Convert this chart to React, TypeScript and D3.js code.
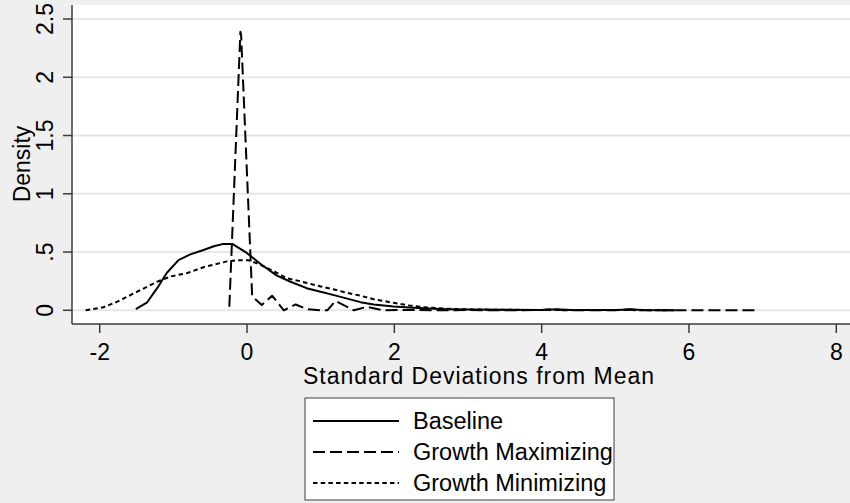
import React from "react";
import * as d3 from "d3";

const W = 850;
const H = 503;

const xTicks = [-2, 0, 2, 4, 6, 8];
const yTicks = [0, 0.5, 1, 1.5, 2, 2.5];
const yTickLabels = ["0", ".5", "1", "1.5", "2", "2.5"];

const baselineX = [-1.51, -1.36, -1.22, -1.09, -0.93, -0.77, -0.6, -0.45, -0.32, -0.2, -0.02, 0.18, 0.4, 0.59, 0.81, 1.0, 1.18, 1.36, 1.54, 1.72, 1.99, 2.2, 2.39, 2.7, 3.0, 3.5, 4.0, 4.2, 4.4, 5.0, 5.2, 5.4, 5.8];
const baselineY = [0.01, 0.065, 0.19, 0.32, 0.43, 0.48, 0.515, 0.55, 0.57, 0.57, 0.5, 0.4, 0.3, 0.245, 0.19, 0.16, 0.13, 0.1, 0.07, 0.05, 0.033, 0.024, 0.017, 0.01, 0.006, 0.004, 0.003, 0.008, 0.003, 0.002, 0.007, 0.002, 0.001];

const maxX = [-0.24, -0.09, -0.08, 0.07, 0.2, 0.34, 0.5, 0.66, 0.81, 1.0, 1.09, 1.2, 1.45, 1.63, 1.85, 2.2, 2.6, 3.0, 3.5, 4.0, 4.15, 4.3, 5.0, 5.2, 5.4, 6.0, 6.5, 6.93];
const maxY = [0.03, 2.39, 2.36, 0.12, 0.045, 0.125, 0.0, 0.05, 0.01, 0.0, 0.0, 0.08, 0.0, 0.03, 0.0, 0.003, 0.0, 0.002, 0.0, 0.002, 0.01, 0.0, 0.0, 0.008, 0.0, 0.0, 0.0, 0.0];

const minX = [-2.19, -1.95, -1.76, -1.49, -1.22, -1.04, -0.81, -0.59, -0.27, -0.14, 0.02, 0.15, 0.35, 0.54, 0.72, 0.81, 1.0, 1.17, 1.36, 1.54, 1.72, 1.99, 2.2, 2.39, 2.7, 3.0, 3.5, 4.0, 4.5, 5.0, 5.5, 5.8];
const minY = [0.0, 0.026, 0.074, 0.16, 0.245, 0.29, 0.32, 0.37, 0.42, 0.43, 0.43, 0.4, 0.34, 0.275, 0.25, 0.235, 0.205, 0.18, 0.15, 0.125, 0.095, 0.064, 0.042, 0.027, 0.014, 0.008, 0.004, 0.003, 0.002, 0.002, 0.001, 0.001];

const seriesNames = ["Baseline", "Growth Maximizing", "Growth Minimizing"];
const seriesDash = ["none", "12 5", "4.5 3.2"];

const FONT = "'Liberation Sans', Arial, Helvetica, sans-serif";

export default function App() {
  const x = d3.scaleLinear().domain([-2, 8]).range([99.7, 836.3]);
  const y = d3.scaleLinear().domain([0, 2.5]).range([310.3, 19]);
  const plot = { left: 72, top: 5, right: 850, bottom: 324 };

  const line = d3
    .line<[number, number]>()
    .x((d) => x(d[0]))
    .y((d) => y(d[1]));

  const series = [
    baselineX.map((v, i) => [v, baselineY[i]] as [number, number]),
    maxX.map((v, i) => [v, maxY[i]] as [number, number]),
    minX.map((v, i) => [v, minY[i]] as [number, number]),
  ];

  const legend = { x: 305, y: 398, w: 309, h: 102 };
  const legendRows = [421, 452, 483];

  return (
    <svg
      width={W}
      height={H}
      style={{ position: "absolute", left: 0, top: 0, display: "block" }}
      fontFamily={FONT}
    >
      <rect x={0} y={0} width={W} height={H} fill="#efefef" />
      <rect
        x={plot.left}
        y={plot.top}
        width={plot.right - plot.left}
        height={plot.bottom - plot.top}
        fill="#ffffff"
      />
      {yTicks.map((t) => (
        <line
          key={"g" + t}
          x1={plot.left}
          x2={plot.right}
          y1={y(t)}
          y2={y(t)}
          stroke="#e6e6e6"
          strokeWidth={2}
        />
      ))}
      {series.map((s, i) => (
        <path
          key={"s" + i}
          d={line(s) || ""}
          fill="none"
          stroke="#000"
          strokeWidth={2}
          strokeDasharray={seriesDash[i]}
          strokeLinejoin="round"
        />
      ))}
      {/* axes */}
      <line x1={plot.left} x2={plot.left} y1={plot.top} y2={plot.bottom} stroke="#3c3c3c" strokeWidth={1.5} />
      <line x1={plot.left} x2={plot.right} y1={plot.bottom} y2={plot.bottom} stroke="#3c3c3c" strokeWidth={1.5} />
      {yTicks.map((t, i) => (
        <g key={"yt" + t}>
          <line x1={63} x2={plot.left} y1={y(t)} y2={y(t)} stroke="#3c3c3c" strokeWidth={1.5} />
          <text
            transform={`translate(53,${y(t)}) rotate(-90)`}
            textAnchor="middle"
            fontSize={23}
            fill="#000"
          >
            {yTickLabels[i]}
          </text>
        </g>
      ))}
      {xTicks.map((t) => (
        <g key={"xt" + t}>
          <line x1={x(t)} x2={x(t)} y1={plot.bottom} y2={333} stroke="#3c3c3c" strokeWidth={1.5} />
          <text x={x(t)} y={360} textAnchor="middle" fontSize={23} fill="#000">
            {t}
          </text>
        </g>
      ))}
      <text
        transform={`translate(30,164) rotate(-90)`}
        textAnchor="middle"
        fontSize={23}
        fill="#000"
      >
        Density
      </text>
      <text x={303} y={384} fontSize={23} fill="#000" textLength={351} lengthAdjust="spacing">
        Standard Deviations from Mean
      </text>
      {/* legend */}
      <rect
        x={legend.x}
        y={legend.y}
        width={legend.w}
        height={legend.h}
        fill="#ffffff"
        stroke="#3c3c3c"
        strokeWidth={1}
      />
      {seriesNames.map((n, i) => (
        <g key={"l" + i}>
          <line
            x1={313}
            x2={399}
            y1={legendRows[i]}
            y2={legendRows[i]}
            stroke="#000"
            strokeWidth={2}
            strokeDasharray={seriesDash[i]}
          />
          <text x={413} y={legendRows[i] + 8} fontSize={23.5} fill="#000">
            {n}
          </text>
        </g>
      ))}
    </svg>
  );
}
